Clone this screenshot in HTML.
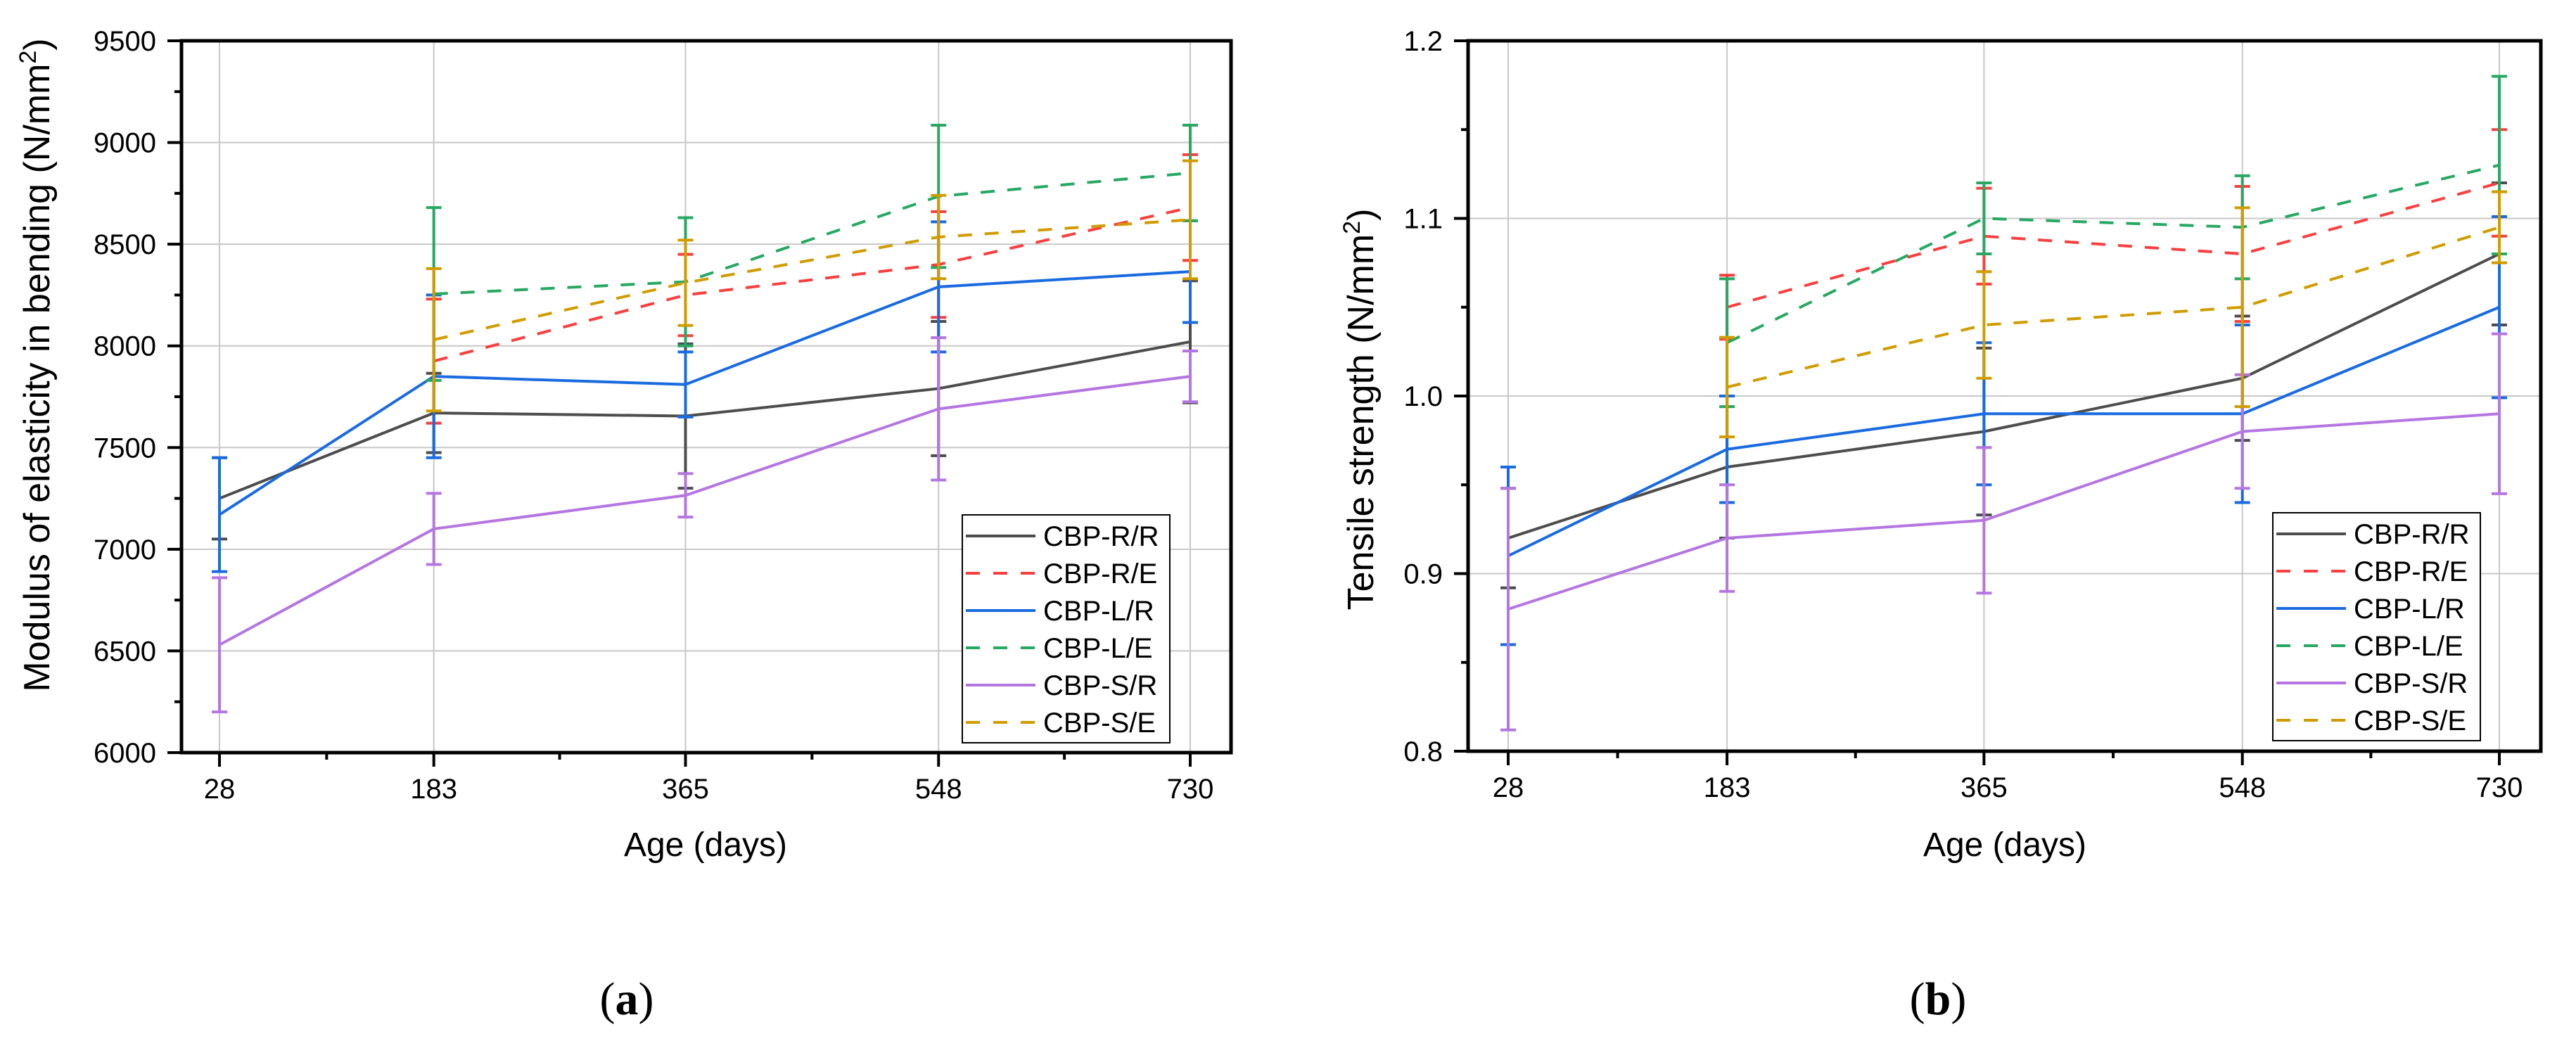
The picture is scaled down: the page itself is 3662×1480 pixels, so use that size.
<!DOCTYPE html>
<html><head><meta charset="utf-8"><style>
html,body{margin:0;padding:0;background:#fff;}
svg{display:block;font-family:"Liberation Sans",Arial,sans-serif;}
</style></head><body>
<svg id="fig" width="3662" height="1480" viewBox="0 0 3662 1480" xmlns="http://www.w3.org/2000/svg">
<text x="891" y="1442" font-family="Liberation Serif,serif" font-size="66" text-anchor="middle">(<tspan font-weight="bold">a</tspan>)</text>
<text x="2755" y="1442" font-family="Liberation Serif,serif" font-size="66" text-anchor="middle">(<tspan font-weight="bold">b</tspan>)</text>
</svg>
<script>
const categories=[28,183,365,548,730];
const seriesNames=["CBP-R/R","CBP-R/E","CBP-L/R","CBP-L/E","CBP-S/R","CBP-S/E"];
const seriesColors=["#4d4d4d","#f84040","#1a6be0","#27a863","#b476e0","#d09c00"];
const seriesDashed=[false,true,false,true,false,true];
// Chart a: modulus of elasticity
const aRR=[7250,7670,7655,7790,8020];
const aRE=[null,7925,8250,8400,8680];
const aLR=[7170,7850,7810,8290,8365];
const aLE=[null,8255,8315,8735,8850];
const aSR=[6530,7100,7265,7690,7850];
const aSE=[null,8030,8310,8535,8620];
const aErrRR=[200,195,355,330,300];
const aErrRE=[0,305,200,260,260];
const aErrLR=[280,400,160,320,250];
const aErrLE=[0,425,315,350,235];
const aErrSR=[330,175,107,350,125];
const aErrSE=[0,350,210,205,290];
const aTicks=[6000,6500,7000,7500,8000,8500,9000,9500];
// Chart b: tensile strength
const bRR=[0.92,0.96,0.98,1.01,1.08];
const bRE=[null,1.05,1.09,1.08,1.12];
const bLR=[0.91,0.97,0.99,0.99,1.05];
const bLE=[null,1.03,1.10,1.095,1.13];
const bSR=[0.88,0.92,0.93,0.98,0.99];
const bSE=[null,1.005,1.04,1.05,1.095];
const bErrRR=[0.028,0.04,0.047,0.035,0.04];
const bErrRE=[0,0.018,0.027,0.038,0.03];
const bErrLR=[0.05,0.03,0.04,0.05,0.051];
const bErrLE=[0,0.036,0.02,0.029,0.05];
const bErrSR=[0.068,0.03,0.041,0.032,0.045];
const bErrSE=[0,0.028,0.03,0.056,0.02];
const bTicks=[0.8,0.9,1.0,1.1,1.2];
const bTickLabels=["0.8","0.9","1.0","1.1","1.2"];

const NS="http://www.w3.org/2000/svg";
const svg=document.getElementById('fig');
function mk(tag,attrs,parent){const e=document.createElementNS(NS,tag);for(const k in attrs)e.setAttribute(k,attrs[k]);(parent||svg).appendChild(e);return e;}

function drawChart(cfg){
  const g=mk('g',{});
  
  
  const L=cfg.L,R=cfg.R,T=cfg.T,B=cfg.B;
  const xs=d=>cfg.x28+(d-28)*(cfg.x730-cfg.x28)/702;
  const ys=v=>B-(v-cfg.ymin)*(B-T)/(cfg.ymax-cfg.ymin);
  categories.forEach(c=>{const l=mk('line',{x1:xs(c),x2:xs(c),y1:T,y2:B,stroke:'#c8c8c8','stroke-width':2},g);
    });
  cfg.ticks.forEach((t,i)=>{
    if(i>0&&i<cfg.ticks.length-1){const l=mk('line',{x1:L,x2:R,y1:ys(t),y2:ys(t),stroke:'#c8c8c8','stroke-width':2},g);
      }
    const tk=mk('line',{x1:L-20,x2:L,y1:ys(t),y2:ys(t),stroke:'#000','stroke-width':4},g);
    
    if(i<cfg.ticks.length-1){const mt=(t+cfg.ticks[i+1])/2;
      const m=mk('line',{x1:L-10,x2:L,y1:ys(mt),y2:ys(mt),stroke:'#000','stroke-width':4},g);
      }
    const tx=mk('text',{x:L-36,y:ys(t)+14,'font-size':40,'text-anchor':'end'},g);
    tx.textContent=cfg.tickLabels?cfg.tickLabels[i]:String(t);
    
  });
  categories.forEach((c,i)=>{
    const tk=mk('line',{x1:xs(c),x2:xs(c),y1:B,y2:B+20,stroke:'#000','stroke-width':4},g);
    
    if(i<categories.length-1){const mx=(xs(c)+xs(categories[i+1]))/2;
      const m=mk('line',{x1:mx,x2:mx,y1:B,y2:B+10,stroke:'#000','stroke-width':4},g);
      }
    const tx=mk('text',{x:xs(c),y:B+65,'font-size':40,'text-anchor':'middle'},g);
    tx.textContent=String(c);
    
  });
  cfg.series.forEach((vals,si)=>{
    const sg=mk('g',{},g);
    
    
    const col=seriesColors[si];const errs=cfg.errs[si];
    const pts=[];
    vals.forEach((v,i)=>{if(v===null)return;pts.push(xs(categories[i])+','+ys(v));
      const e=errs[i];if(!e)return;
      const x=xs(categories[i]),y1=ys(v+e),y2=ys(v-e);
      const eb=mk('path',{d:`M${x},${y1}V${y2}M${x-11},${y1}H${x+11}M${x-11},${y2}H${x+11}`,stroke:col,'stroke-width':4,fill:'none'},sg);
      
    });
    const pl=mk('polyline',{points:pts.join(' '),fill:'none',stroke:col,'stroke-width':4,'stroke-dasharray':seriesDashed[si]?'20,18':'none'},sg);
    
  });
  const fr=mk('rect',{x:L,y:T,width:R-L,height:B-T,fill:'none',stroke:'#000','stroke-width':5},g);
  
  const lg=mk('g',{},g);
  
  const lb=mk('rect',{x:cfg.lx,y:cfg.ly,width:295,height:324,fill:'#fff',stroke:'#000','stroke-width':2},lg);
  
  seriesNames.forEach((n,i)=>{
    const y=cfg.ly+30+i*53;
    const ln=mk('line',{x1:cfg.lx+5,x2:cfg.lx+104,y1:y,y2:y,stroke:seriesColors[i],'stroke-width':4,'stroke-dasharray':seriesDashed[i]?'20,19':'none'},lg);
    
    const t=mk('text',{x:cfg.lx+115,y:y+14,'font-size':40},lg);t.textContent=n;
    
  });
  const xt=mk('text',{x:cfg.xtx,y:1217,'font-size':48,'text-anchor':'middle'},g);
  xt.textContent='Age (days)';
  
  const yt=mk('text',{x:0,y:0,'font-size':cfg.ytFont,'text-anchor':'middle',transform:`translate(${cfg.ytx},${cfg.yty}) rotate(-90)`},g);
  yt.innerHTML=cfg.ytitle+' (N/mm<tspan baseline-shift="super" font-size="'+Math.round(cfg.ytFont*0.65)+'">2</tspan>)';
  
}
drawChart({name:'chart-modulus',L:258,R:1750,T:58,B:1070,x28:312,x730:1692,ymin:6000,ymax:9500,
  ticks:aTicks,series:[aRR,aRE,aLR,aLE,aSR,aSE],errs:[aErrRR,aErrRE,aErrLR,aErrLE,aErrSR,aErrSE],
  lx:1368,ly:732,xtx:1003,ytx:70,yty:519,ytFont:52,ytitle:'Modulus of elasticity in bending'});
drawChart({name:'chart-tensile',L:2087,R:3612,T:58,B:1068,x28:2144,x730:3553,ymin:0.8,ymax:1.2,
  ticks:bTicks,tickLabels:bTickLabels,series:[bRR,bRE,bLR,bLE,bSR,bSE],errs:[bErrRR,bErrRE,bErrLR,bErrLE,bErrSR,bErrSE],
  lx:3231,ly:729,xtx:2850,ytx:1952,yty:582,ytFont:52,ytitle:'Tensile strength'});
</script>
</body></html>
